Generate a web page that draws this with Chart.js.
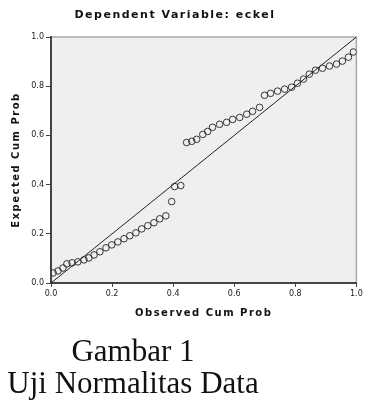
<!DOCTYPE html>
<html>
<head>
<meta charset="utf-8">
<script src="https://cdn.jsdelivr.net/npm/chart.js@4/dist/chart.umd.min.js"></script>
<style>
  html, body { margin: 0; padding: 0; background: #fff; }
  #wrap { position: relative; width: 367px; height: 402px; }
  #c { position: absolute; left: 0; top: 0; }
  .cap { position: absolute; left: 0; width: 266px; text-align: center;
         font-family: "Liberation Serif", "Times New Roman", serif; font-size: 31px;
         line-height: 32px; color: #111; white-space: nowrap; }
</style>
</head>
<body>
<div id="wrap">
  <canvas id="c" width="367" height="402"></canvas>
  <div class="cap" style="top:335px">Gambar 1</div>
  <div class="cap" style="top:367px">Uji Normalitas Data</div>
</div>
<script>
// ---- data ----
const chartTitle = 'Dependent Variable: eckel';
const xTitle = 'Observed Cum Prob';
const yTitle = 'Expected Cum Prob';
const xTickLabels = ['0.0', '0.2', '0.4', '0.6', '0.8', '1.0'];
const yTickLabels = ['0.0', '0.2', '0.4', '0.6', '0.8', '1.0'];
const observedCumProb = [
  0.007, 0.023, 0.039, 0.052, 0.069, 0.088, 0.108, 0.124, 0.141, 0.160,
  0.180, 0.199, 0.219, 0.239, 0.258, 0.278, 0.297, 0.317, 0.337, 0.356,
  0.376, 0.395, 0.405, 0.425, 0.444, 0.461, 0.477, 0.497, 0.513, 0.529,
  0.552, 0.575, 0.595, 0.618, 0.641, 0.660, 0.683, 0.699, 0.719, 0.742,
  0.765, 0.788, 0.807, 0.827, 0.846, 0.866, 0.889, 0.912, 0.935, 0.954,
  0.974, 0.990
];
const expectedCumProb = [
  0.041, 0.049, 0.061, 0.078, 0.082, 0.086, 0.094, 0.102, 0.114, 0.127,
  0.143, 0.155, 0.167, 0.180, 0.192, 0.204, 0.220, 0.233, 0.245, 0.261,
  0.273, 0.331, 0.392, 0.396, 0.571, 0.576, 0.584, 0.604, 0.616, 0.633,
  0.645, 0.653, 0.665, 0.673, 0.686, 0.698, 0.714, 0.763, 0.771, 0.780,
  0.788, 0.796, 0.812, 0.829, 0.849, 0.865, 0.873, 0.882, 0.890, 0.902,
  0.918, 0.939
];
const refLineX = [0, 1];
const refLineY = [0, 1];

const points = observedCumProb.map((x, i) => ({ x: x, y: expectedCumProb[i] }));
const refLine = refLineX.map((x, i) => ({ x: x, y: refLineY[i] }));

const spacing = '1.5px';
const plotStyle = {
  id: 'plotStyle',
  beforeUpdate(chart) { chart.ctx.letterSpacing = spacing; },
  afterUpdate(chart) {
    Object.values(chart.scales).forEach(s => {
      if (s._lsWrapped) return;
      const orig = s.drawLabels.bind(s);
      s.drawLabels = function (area) {
        const ctx = this.ctx;
        const prev = ctx.letterSpacing;
        ctx.letterSpacing = '0px';
        orig(area);
        ctx.letterSpacing = prev;
      };
      s._lsWrapped = true;
    });
  },
  beforeDraw(chart) {
    const ctx = chart.ctx;
    const a = chart.chartArea;
    ctx.save();
    ctx.fillStyle = '#efefef';
    ctx.fillRect(a.left, a.top, a.right - a.left, a.bottom - a.top);
    ctx.strokeStyle = '#a8a8a8';
    ctx.lineWidth = 1.5;
    ctx.beginPath();
    ctx.moveTo(a.left, a.top);
    ctx.lineTo(a.right, a.top);
    ctx.lineTo(a.right, a.bottom);
    ctx.stroke();
    // chart title
    ctx.letterSpacing = spacing;
    ctx.fillStyle = '#111';
    ctx.font = 'bold 11px "DejaVu Sans"';
    ctx.textAlign = 'center';
    ctx.textBaseline = 'middle';
    ctx.fillText(chartTitle, 175, 15);
    ctx.restore();
    ctx.letterSpacing = spacing;
  }
};

new Chart(document.getElementById('c'), {
  type: 'scatter',
  data: {
    datasets: [
      {
        label: 'Observed',
        data: points,
        pointStyle: 'circle',
        pointRadius: 3.3,
        pointHoverRadius: 3.3,
        borderColor: '#222',
        borderWidth: 0.9,
        backgroundColor: 'rgba(0,0,0,0)'
      },
      {
        type: 'line',
        label: 'Reference',
        data: refLine,
        borderColor: '#222',
        borderWidth: 1,
        pointRadius: 0,
        fill: false
      }
    ]
  },
  options: {
    responsive: false,
    animation: false,
    devicePixelRatio: 1,
    layout: { padding: { top: 37, left: 0, right: 10, bottom: 83 } },
    plugins: { legend: { display: false }, tooltip: { enabled: false }, title: { display: false } },
    scales: {
      x: {
        type: 'linear', min: 0, max: 1,
        afterFit(s) { s.height = 36; },
        ticks: { stepSize: 0.2, autoSkip: false, maxRotation: 0, padding: 2,
                 color: '#222', font: { family: 'DejaVu Sans', size: 8 },
                 callback: (v, i) => xTickLabels[i] },
        grid: { drawOnChartArea: false, drawTicks: true, tickLength: 4, color: '#444' },
        border: { display: true, color: '#444', width: 2 },
        title: { display: true, text: xTitle, color: '#111', padding: { top: 0, bottom: 0 },
                 font: { family: 'DejaVu Sans', size: 10, weight: 'bold' } }
      },
      y: {
        type: 'linear', min: 0, max: 1,
        afterFit(s) { s.width = 51; },
        ticks: { stepSize: 0.2, autoSkip: false, padding: 2,
                 color: '#222', font: { family: 'DejaVu Sans', size: 8 },
                 callback: (v, i) => yTickLabels[i] },
        grid: { drawOnChartArea: false, drawTicks: true, tickLength: 5, color: '#444' },
        border: { display: true, color: '#444', width: 2 },
        title: { display: true, text: yTitle, color: '#111', padding: { top: 10, bottom: 0 },
                 font: { family: 'DejaVu Sans', size: 10, weight: 'bold' } }
      }
    }
  },
  plugins: [plotStyle]
});
</script>
</body>
</html>
